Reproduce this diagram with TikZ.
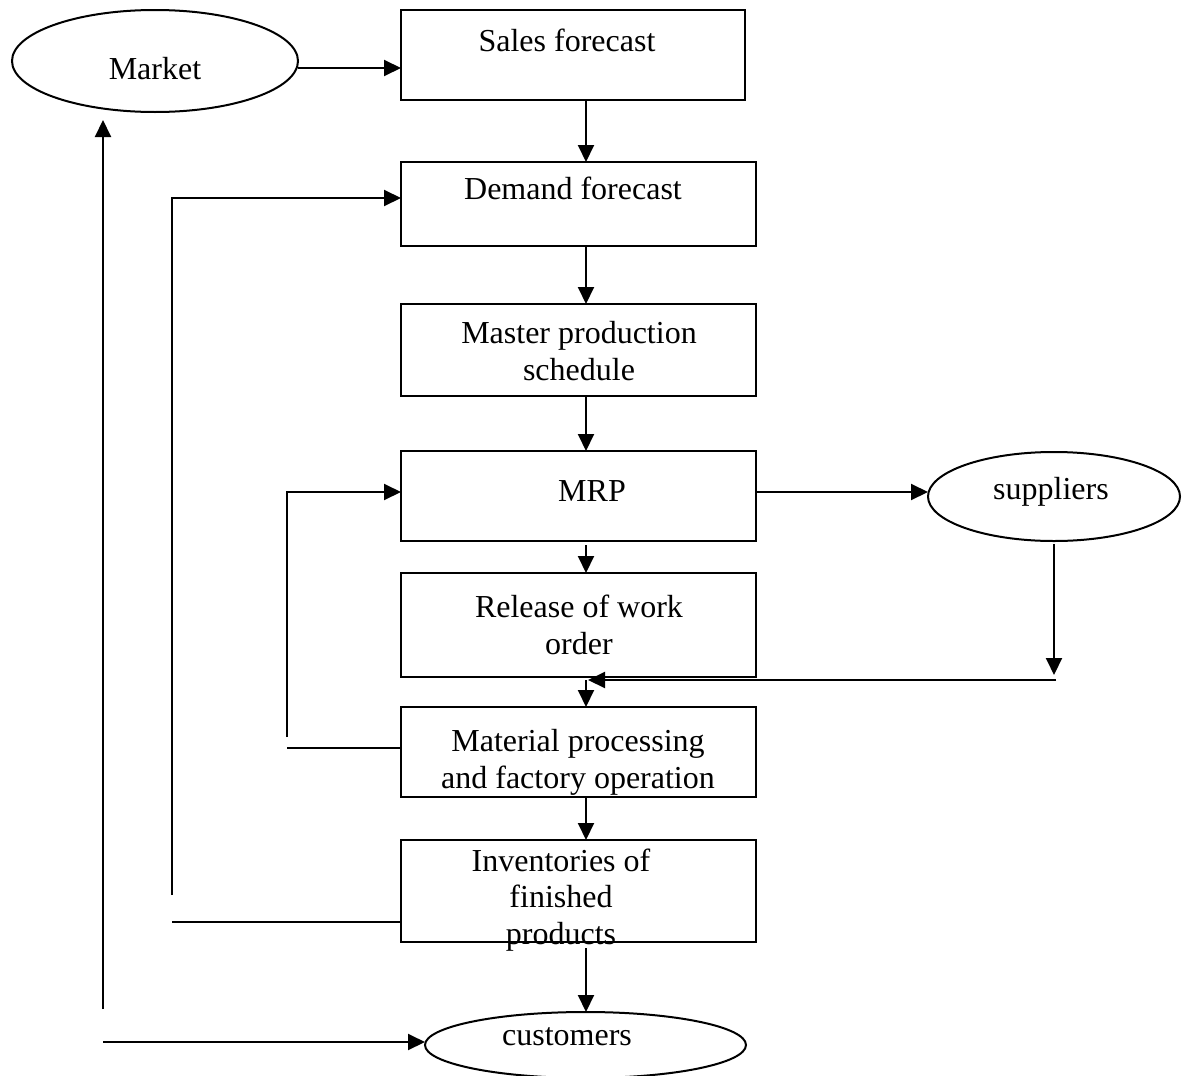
\documentclass[tikz,border=0pt]{standalone}
\usepackage{fontspec}
\setmainfont{Liberation Serif}
\usetikzlibrary{arrows.meta,shapes.geometric}

\begin{document}
\begin{tikzpicture}[x=0.5pt,y=-0.5pt,
  line width=1pt,
  box/.style={draw, rectangle, inner sep=0pt, outer sep=0pt, minimum width=177.5pt},
  oval/.style={draw, ellipse, inner sep=0pt, outer sep=0pt},
  txt/.style={inner sep=0pt, align=center, font=\fontsize{16}{18.4}\selectfont},
  arr/.style={-{Triangle[length=8.5pt,width=8pt]}},
  plain/.style={-}]

\useasboundingbox (0,0) rectangle (1189,1076);

% boxes of the planning chain
\node[box, minimum width=172pt, minimum height=45pt] (sales)    at (573,55)    {};
\node[box, minimum height=42pt]                      (demand)   at (578.5,204) {};
\node[box, minimum height=46pt]                      (mps)      at (578.5,350) {};
\node[box, minimum height=45pt]                      (mrp)      at (578.5,496) {};
\node[box, minimum height=52pt]                      (release)  at (578.5,625) {};
\node[box, minimum height=45pt]                      (material) at (578.5,752) {};
\node[box, minimum height=51pt]                      (stock)    at (578.5,891) {};

% external parties
\node[oval, minimum width=143pt,   minimum height=51pt]   (market)    at (155,61)     {};
\node[oval, minimum width=126pt,   minimum height=44.5pt] (suppliers) at (1054,496.5) {};
\node[oval, minimum width=160.5pt, minimum height=33pt]   (customers) at (585.5,1045) {};

% labels
\node[txt] (tmarket)    at (155,69)   {Market};
\node[txt] (tsales)     at (567,40)   {Sales forecast};
\node[txt] (tdemand)    at (573,188)  {Demand forecast};
\node[txt] (tmps)       at (579,351)  {Master production\\schedule};
\node[txt] (tmrp)       at (592,491)  {MRP};
\node[txt] (tsuppliers) at (1051,492) {suppliers};
\node[txt] (trelease)   at (579,625)  {Release of work\\order};
\node[txt] (tmaterial)  at (578,762)  {Material processing\\and factory operation};
\node[txt] (tstock)     at (561,900)  {Inventories of\\finished\\products};
\node[txt] (tcustomers) at (567,1037) {customers};

% routing coordinates
\coordinate (ax)  at (586,0);
\coordinate (r1)  at (0,68);
\coordinate (r2)  at (0,492);
\coordinate (r3)  at (0,198);
\coordinate (sj)  at (1056,680);
\coordinate (sd)  at (0,675);
\coordinate (m1)  at (287,748);
\coordinate (m2)  at (287,737);
\coordinate (i1)  at (172,922);
\coordinate (i2)  at (172,895);
\coordinate (c1)  at (103,1009);
\coordinate (c2)  at (103,1042);

% main flow
\draw[arr] (market.east |- r1) -- (sales.west |- r1);
\draw[arr] (ax |- sales.south)  -- (ax |- demand.north);
\draw[arr] (ax |- demand.south) -- (ax |- mps.north);
\draw[arr] (ax |- mps.south)    -- (ax |- mrp.north);
\draw[arr, shorten <=2pt] (ax |- mrp.south) -- (ax |- release.north);
\draw[arr] (ax |- sj) -- (ax |- material.north);
\draw[arr] (ax |- material.south) -- (ax |- stock.north);
\draw[arr, shorten <=3pt] (ax |- stock.south) -- (ax |- customers.north);

% suppliers loop
\draw[arr] (mrp.east |- r2) -- (suppliers.west |- r2);
\draw[arr, shorten <=1.5pt] (suppliers.south) -- (suppliers.south |- sd);
\draw[arr] (sj) -- ([xshift=1pt]ax |- sj);

% feedback from the factory floor
\draw[plain] (material.west |- m1) -- (m1);
\draw[arr] (m2) -- (m2 |- r2) -- (mrp.west |- r2);

% feedback from finished stock
\draw[plain] (stock.west |- i1) -- (i1);
\draw[arr] (i2) -- (i2 |- r3) -- (demand.west |- r3);

% customers back to the market
\draw[arr, shorten >=4pt] (c1) -- (c1 |- market.south);
\draw[arr] (c2) -- (customers.west |- c2);

\end{tikzpicture}
\end{document}
